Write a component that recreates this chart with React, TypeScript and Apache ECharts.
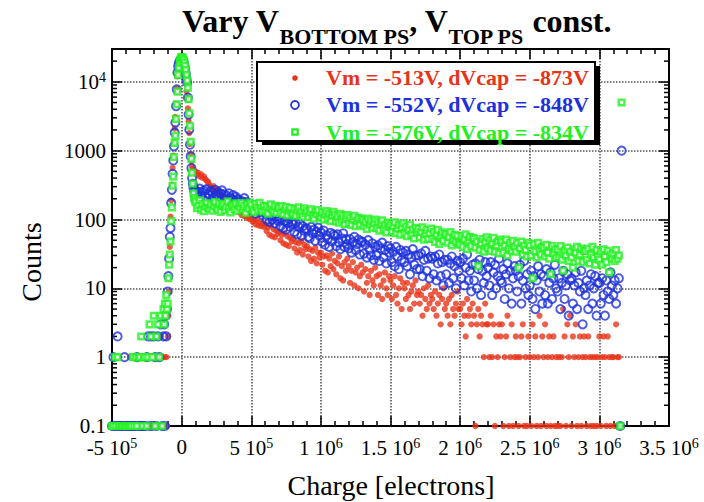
import React, { useEffect, useRef } from 'react';
import * as echarts from 'echarts';

// ---------- data (counts per bin; 0 = empty bin, drawn on the axis floor) ----------
const X_MIN = -500000;
const X_MAX = 3500000;
const X_STEP = 500000;
const Y_MIN = 0.1;
const Y_MAX = 30000;

const leftStart = -500000; // coarse bins, 1e4 wide
const leftStep = 10000;
const peakStart = -125000; // fine bins around the pedestal, 5e3 wide
const peakStep = 5000;
const tailStart = 100000; // coarse bins, 1e4 wide
const tailStep = 10000;
const overflowX = 3160000;

const redLeft = [0,0,0,0,0,0,0,0,0,0, 0,0,0,1,0,0,0,0,0,0, 0,0,1,0,0,0,0,0,1,0, 0,0,0,1,0,2,1,0];
const blueLeft = [0,1,0,0,2,0,0,0,0,1, 0,0,0,0,0,0,0,0,1,0, 0,0,0,0,0,1,2,0,2,0, 2,1,0,2,1,3,0,2];
const greenLeft = [0,0,1,0,1,0,0,0,0,0, 0,0,0,0,0,1,0,1,0,1, 1,2,0,1,1,0,1,3,2,1, 4,0,2,3,1,4,0,5];

const redPeak = [0,1,0,1,0,2,4,9,40,110, 190,320,560,850,1300,2100,3100,4800,8000,12000,
  15500,17800,19400,20200,20500,20000,19200,17800,16000,14000,
  11800,9500,7300,5900,4100,2700,1800,1250,900,700, 590,540,510,500,495];
const bluePeak = [3,0,4,2,5,9,15,27,56,75, 174,270,461,722,1155,1830,2560,4430,7780,13600,
  16800,18500,19600,20300,20800,21000,21300,20400,19100,17300,
  15200,13100,11000,9700,5880,3350,2020,1220,830,560, 400,330,290,262,250];
const greenPeak = [3,6,4,8,5,6,14,22,31,48, 95,150,310,420,810,1300,1650,2900,4700,7200,
  12500,16000,19200,20900,22400,23000,22600,21800,20500,19000,
  17100,14800,12600,10400,8200,5600,3500,2300,1350,760, 480,330,240,205,190];

const redTail = [
  498,448,476,421,452,402,424,385,366,350,
  321,296,282,305,264,258,273,241,233,226,
  212,196,203,177,188,166,175,159,164,148,
  139,128,134,116,127,112,121,105,114,101,
  106,93,97,85,100,82,91,80,89,78,
  85,68,77,60,81,57,72,55,69,62,
  66,50,60,45,63,43,57,41,54,48,
  52,38,47,33,45,36,49,31,43,37,
  41,29,37,25,35,27,39,23,33,28,
  33,22,29,18,30,17,27,21,32,19,
  25,16,23,29,14,21,13,24,18,27,
  21,12,18,24,11,17,20,10,15,22,
  17,9,19,12,15,8,18,13,11,20,
  15,8,16,11,7,13,17,10,8,15,
  13,7,11,15,8,6,10,14,5,12,
  10,7,12,8,5,9,11,6,13,8,
  9,6,8,4,10,7,5,11,6,8,
  7,5,9,4,6,8,3,7,10,5,
  6,4,7,3,8,5,4,6,9,5,
  5,3,6,4,2,7,4,5,3,6,
  4,0,3,5,2,4,3,1,6,3,
  3,1,4,1,3,0,2,1,3,2,
  3,0,1,2,4,0,1,3,0,1,
  2,1,0,1,2,3,0,1,0,2,
  1,0,3,1,2,0,1,4,0,2,
  1,3,0,1,2,0,1,2,0,1,
  0,1,0,1,5,2,0,3,1,4,
  0,2,1,3,0,1,2,0,1,2,
  1,0,2,1,0,1,0,1,0,1,
  2,0,1,2,1,0,2,1,0,1,
  1,0,3,1,1,
];

const blueTail = [
  268,229,251,281,222,247,262,215,276,240,
  226,259,244,212,270,231,253,218,237,265,
  232,201,224,190,240,208,197,226,186,214,
  198,166,188,158,182,204,152,179,170,149,
  158,133,150,122,163,139,128,154,117,141,
  124,99,127,92,113,100,131,88,110,96,
  101,80,104,75,95,71,89,102,78,92,
  86,66,90,61,78,87,58,80,69,73,
  74,56,53,78,63,71,49,66,76,58,
  65,47,69,43,59,52,40,64,48,61,
  58,41,61,46,37,53,63,40,52,44,
  38,52,33,47,56,36,44,51,31,48,
  47,32,43,28,50,37,30,45,26,40,
  30,42,25,38,46,28,36,23,41,33,
  38,24,34,21,40,29,19,36,26,33,
  24,35,21,31,16,28,37,22,30,19,
  30,19,32,15,26,35,18,27,14,29,
  27,16,29,13,23,31,15,24,11,26,
  16,26,12,23,29,14,21,10,25,18,
  24,14,27,11,20,31,13,18,9,22,
  13,23,10,19,26,8,18,12,24,15,
  20,11,24,8,17,22,10,15,27,13,
  12,19,7,16,23,10,18,6,14,21,
  18,9,15,22,6,13,25,10,16,8,
  11,18,7,15,5,13,21,9,16,6,
  15,8,19,6,12,17,7,14,22,10,
  9,14,5,12,18,7,11,16,4,13,
  14,6,11,17,5,12,9,18,3,10,
  8,13,5,11,16,6,10,15,4,12,
  12,6,14,8,4,13,9,7,17,11,
  8,13,6,10,14,0,
];

const greenTail = [
  178,146,160,190,139,167,132,155,174,148,
  143,166,134,158,180,149,138,170,129,160,
  168,137,153,184,145,127,163,156,141,172,
  134,161,149,174,140,157,124,166,145,177,
  162,140,128,168,151,135,175,146,131,158,
  134,156,121,150,166,140,129,158,125,149,
  149,125,157,119,140,152,115,135,147,122,
  121,143,113,135,151,118,131,110,145,124,
  134,108,127,141,114,103,130,119,137,111,
  106,127,99,118,133,104,122,95,115,129,
  118,94,110,90,121,99,113,86,104,116,
  88,108,83,100,113,80,96,106,85,103,
  99,80,93,73,103,84,96,76,88,100,
  75,92,69,86,97,73,84,65,90,79,
  86,67,80,91,63,74,83,60,77,88,
  62,79,57,72,84,60,71,53,76,66,
  73,55,66,77,51,61,70,52,63,74,
  52,66,47,60,71,44,57,65,49,62,
  61,46,56,66,42,51,60,47,58,44,
  43,57,40,52,61,37,48,56,41,54,
  53,39,48,21,36,45,52,34,47,55,
  38,50,35,45,54,34,42,48,32,51,
  47,33,42,51,30,38,46,35,49,40,
  34,45,20,38,48,31,42,36,29,46,
  42,30,14,44,34,28,46,35,31,40,
  39,29,43,33,27,16,41,32,37,28,
  37,28,41,26,18,35,30,39,25,34,
  28,20,37,33,40,25,31,38,24,35,
  35,26,38,23,31,40,28,22,36,29,
  26,34,22,37,29,24,35,17,31,27,
  32,25,36,27,30,0,
];

const blueOverflow = 1000;
const greenOverflow = 5000;

const yMinorTicks = [
  0.2,0.3,0.4,0.5,0.6,0.7,0.8,0.9,
  2,3,4,5,6,7,8,9,
  20,30,40,50,60,70,80,90,
  200,300,400,500,600,700,800,900,
  2000,3000,4000,5000,6000,7000,8000,9000,
  20000,
];

// ---------- styling ----------
const FONT = '"Liberation Serif", "Times New Roman", Times, serif';
const RED = '#E8341A';
const BLUE = '#1E32DC';
const GREEN = '#22F022';

function toPoints(start: number, step: number, counts: number[]) {
  return counts.map((c, i) => [start + i * step, c === 0 ? Y_MIN : c]);
}

function seriesData(left: number[], peak: number[], tail: number[], overflow?: number) {
  const pts = [
    ...toPoints(leftStart, leftStep, left),
    ...toPoints(peakStart, peakStep, peak),
    ...toPoints(tailStart, tailStep, tail),
  ];
  if (overflow !== undefined) pts.push([overflowX, overflow]);
  return pts;
}

function xLabel(v: number) {
  if (v === 0) return '0';
  const e = Math.floor(Math.log10(Math.abs(v)) + 1e-9);
  const m = +(v / Math.pow(10, e)).toFixed(2);
  return `${m} 10{sup|${e}}`;
}

function yLabel(v: number) {
  if (v >= 9999) return `10{sup|${Math.round(Math.log10(v))}}`;
  if (v < 1) return '0.1';
  return String(Math.round(v));
}

const labelRich = {
  sup: { fontSize: 14, fontFamily: FONT, color: '#000', padding: [0, 0, 9, 0] },
};

const tickStyle = { color: '#000', width: 1.5 };
const gridStyle = { color: '#555', width: 1.6, type: [1.5, 1.5] as any };

function buildOption() {
  const baseX = {
    type: 'value' as const,
    min: X_MIN,
    max: X_MAX,
    interval: X_STEP,
    axisLine: { show: true, onZero: false, lineStyle: { color: '#000', width: 2 } },
    axisTick: { show: true, inside: true, length: 10, lineStyle: tickStyle },
    minorTick: { show: true, splitNumber: 5, length: 5, lineStyle: tickStyle },
  };
  const baseY = {
    type: 'log' as const,
    logBase: 10,
    min: Y_MIN,
    max: Y_MAX,
    axisLine: { show: true, onZero: false, lineStyle: { color: '#000', width: 2 } },
    axisTick: { show: true, inside: true, length: 10, lineStyle: tickStyle },
  };
  return {
    animation: false,
    backgroundColor: '#fff',
    title: {
      text: '{m|Vary V}{s|BOTTOM PS}{m|, V}{s|TOP PS}{m| const.}',
      left: 182,
      top: 5,
      padding: 0,
      textStyle: {
        rich: {
          m: { fontSize: 32, fontWeight: 'bold', fontFamily: FONT, color: '#000', verticalAlign: 'top' },
          s: { fontSize: 22, fontWeight: 'bold', fontFamily: FONT, color: '#000', verticalAlign: 'top', padding: [20, 0, 0, 0] },
        },
      },
    },
    grid: { left: 112, top: 49, right: 35, bottom: 76 },
    xAxis: [
      {
        ...baseX,
        position: 'bottom',
        axisLabel: {
          show: true,
          margin: 10,
          fontSize: 21,
          fontFamily: FONT,
          color: '#000',
          formatter: xLabel,
          rich: labelRich,
        },
        splitLine: { show: true, lineStyle: gridStyle },
      },
      {
        ...baseX,
        position: 'top',
        axisLabel: { show: false },
        splitLine: { show: false },
      },
    ],
    yAxis: [
      {
        ...baseY,
        position: 'left',
        axisLabel: {
          show: true,
          margin: 6,
          fontSize: 21,
          fontFamily: FONT,
          color: '#000',
          showMaxLabel: false,
          formatter: yLabel,
          rich: labelRich,
        },
        splitLine: { show: true, lineStyle: gridStyle },
      },
      {
        ...baseY,
        position: 'right',
        axisLabel: { show: false },
        splitLine: { show: false },
      },
    ],
    series: [
      {
        type: 'scatter',
        name: 'Vm = -513V, dVcap = -873V',
        data: seriesData(redLeft, redPeak, redTail),
        symbol: 'circle',
        symbolSize: 6.2,
        itemStyle: { color: RED },
        clip: false,
        z: 6,
        silent: true,
      },
      {
        type: 'scatter',
        name: 'Vm = -552V, dVcap = -848V',
        data: seriesData(blueLeft, bluePeak, blueTail, blueOverflow),
        symbol: 'circle',
        symbolSize: 8.2,
        itemStyle: { color: 'rgba(255,255,255,0)', borderColor: BLUE, borderWidth: 1.9 },
        clip: false,
        z: 7,
        silent: true,
      },
      {
        type: 'scatter',
        name: 'Vm = -576V, dVcap = -834V',
        data: seriesData(greenLeft, greenPeak, greenTail, greenOverflow),
        symbol: 'rect',
        symbolSize: 5.6,
        itemStyle: { color: '#fff', borderColor: GREEN, borderWidth: 2.5 },
        clip: false,
        z: 8,
        silent: true,
      },
      {
        type: 'custom',
        name: 'minor ticks',
        silent: true,
        z: 5,
        clip: false,
        data: yMinorTicks.map((v) => [X_MIN, v]),
        renderItem: (_params: any, api: any) => {
          const v = api.value(1);
          const p1 = api.coord([X_MIN, v]);
          const p2 = api.coord([X_MAX, v]);
          return {
            type: 'group',
            children: [
              { type: 'line', shape: { x1: p1[0], y1: p1[1], x2: p1[0] + 5, y2: p1[1] }, style: { stroke: '#000', lineWidth: 1.5 } },
              { type: 'line', shape: { x1: p2[0] - 5, y1: p2[1], x2: p2[0], y2: p2[1] }, style: { stroke: '#000', lineWidth: 1.5 } },
            ],
          };
        },
      },
    ],
    graphic: [
      { type: 'rect', z: 100, shape: { x: 262, y: 66, width: 338, height: 79 }, style: { fill: '#000' } },
      { type: 'rect', z: 101, shape: { x: 257, y: 62, width: 338, height: 79 }, style: { fill: '#fff', stroke: '#000', lineWidth: 2 } },
      { type: 'circle', z: 102, shape: { cx: 295, cy: 78, r: 2.8 }, style: { fill: RED } },
      { type: 'circle', z: 102, shape: { cx: 295, cy: 105, r: 4 }, style: { fill: 'none', stroke: BLUE, lineWidth: 1.7 } },
      { type: 'rect', z: 102, shape: { x: 292.3, y: 129.3, width: 5.4, height: 5.4 }, style: { fill: '#fff', stroke: GREEN, lineWidth: 2.2 } },
      {
        type: 'text', z: 102,
        style: { text: 'Vm = -513V, dVcap = -873V', x: 326, y: 77.5, fill: RED, fontSize: 22, fontWeight: 'bold', fontFamily: FONT, textAlign: 'left', textVerticalAlign: 'middle', align: 'left', verticalAlign: 'middle' },
      },
      {
        type: 'text', z: 102,
        style: { text: 'Vm = -552V, dVcap = -848V', x: 326, y: 104.7, fill: BLUE, fontSize: 22, fontWeight: 'bold', fontFamily: FONT, textAlign: 'left', textVerticalAlign: 'middle', align: 'left', verticalAlign: 'middle' },
      },
      {
        type: 'text', z: 102,
        style: { text: 'Vm = -576V, dVcap = -834V', x: 326, y: 132, fill: GREEN, fontSize: 22, fontWeight: 'bold', fontFamily: FONT, textAlign: 'left', textVerticalAlign: 'middle', align: 'left', verticalAlign: 'middle' },
      },
      {
        type: 'text', z: 102,
        style: { text: 'Charge [electrons]', x: 391, y: 485, fill: '#000', fontSize: 28, fontFamily: FONT, textAlign: 'center', textVerticalAlign: 'middle', align: 'center', verticalAlign: 'middle' },
      },
      {
        type: 'text', z: 102, x: 31, y: 262, rotation: Math.PI / 2,
        style: { text: 'Counts', x: 0, y: 0, fill: '#000', fontSize: 28, fontFamily: FONT, textAlign: 'center', textVerticalAlign: 'middle', align: 'center', verticalAlign: 'middle' },
      },
    ],
  };
}

export default function App() {
  const ref = useRef<HTMLDivElement>(null);
  useEffect(() => {
    if (!ref.current) return;
    const chart = echarts.init(ref.current, null, { renderer: 'svg' });
    chart.setOption(buildOption() as any);
    return () => chart.dispose();
  }, []);
  return (
    <div
      ref={ref}
      style={{ position: 'fixed', left: 0, top: 0, width: 704, height: 502, background: '#fff' }}
    />
  );
}
